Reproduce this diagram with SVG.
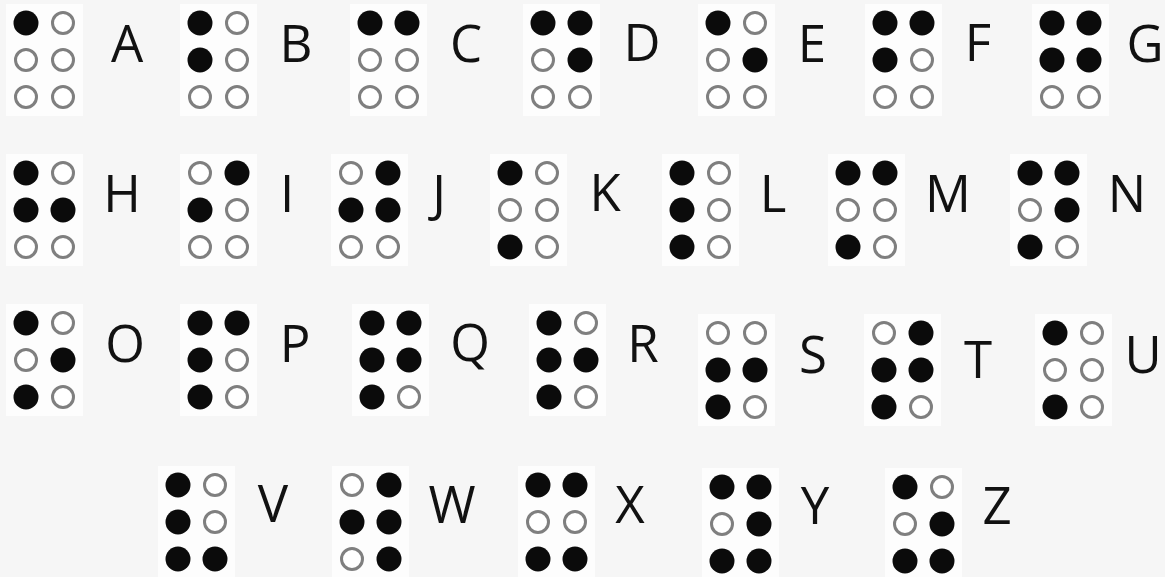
<svg xmlns="http://www.w3.org/2000/svg" xmlns:xlink="http://www.w3.org/1999/xlink" width="1165" height="577" viewBox="0 0 1165 577">
<style>
.bg{fill:#f6f6f6}
.pad{fill:#fdfdfd}
.on{fill:#0b0b0b}
.off{fill:#ffffff;stroke:#7f7f7f;stroke-width:3}
.lbl{font-family:"Open Sans","Liberation Sans",sans-serif;font-size:51px;fill:#111;text-anchor:middle}
</style>
<defs>
<circle id="f" r="12.5" class="on"/>
<circle id="h" r="10.5" class="off"/>
<rect id="p" x="-20" y="-19" width="77" height="112" class="pad"/>
</defs>
<rect class="bg" x="0" y="0" width="1165" height="577"/>
<g id="connectors"/>
<g id="cell-A" transform="translate(26,23)"><use href="#p"/><use href="#f" x="0" y="0"/><use href="#h" x="0" y="37"/><use href="#h" x="0" y="74"/><use href="#h" x="37" y="0"/><use href="#h" x="37" y="37"/><use href="#h" x="37" y="74"/></g>
<g id="cell-B" transform="translate(200,23)"><use href="#p"/><use href="#f" x="0" y="0"/><use href="#f" x="0" y="37"/><use href="#h" x="0" y="74"/><use href="#h" x="37" y="0"/><use href="#h" x="37" y="37"/><use href="#h" x="37" y="74"/></g>
<g id="cell-C" transform="translate(370,23)"><use href="#p"/><use href="#f" x="0" y="0"/><use href="#h" x="0" y="37"/><use href="#h" x="0" y="74"/><use href="#f" x="37" y="0"/><use href="#h" x="37" y="37"/><use href="#h" x="37" y="74"/></g>
<g id="cell-D" transform="translate(543,23)"><use href="#p"/><use href="#f" x="0" y="0"/><use href="#h" x="0" y="37"/><use href="#h" x="0" y="74"/><use href="#f" x="37" y="0"/><use href="#f" x="37" y="37"/><use href="#h" x="37" y="74"/></g>
<g id="cell-E" transform="translate(718,23)"><use href="#p"/><use href="#f" x="0" y="0"/><use href="#h" x="0" y="37"/><use href="#h" x="0" y="74"/><use href="#h" x="37" y="0"/><use href="#f" x="37" y="37"/><use href="#h" x="37" y="74"/></g>
<g id="cell-F" transform="translate(885,23)"><use href="#p"/><use href="#f" x="0" y="0"/><use href="#f" x="0" y="37"/><use href="#h" x="0" y="74"/><use href="#f" x="37" y="0"/><use href="#h" x="37" y="37"/><use href="#h" x="37" y="74"/></g>
<g id="cell-G" transform="translate(1052,23)"><use href="#p"/><use href="#f" x="0" y="0"/><use href="#f" x="0" y="37"/><use href="#h" x="0" y="74"/><use href="#f" x="37" y="0"/><use href="#f" x="37" y="37"/><use href="#h" x="37" y="74"/></g>
<g id="cell-H" transform="translate(26,173)"><use href="#p"/><use href="#f" x="0" y="0"/><use href="#f" x="0" y="37"/><use href="#h" x="0" y="74"/><use href="#h" x="37" y="0"/><use href="#f" x="37" y="37"/><use href="#h" x="37" y="74"/></g>
<g id="cell-I" transform="translate(200,173)"><use href="#p"/><use href="#h" x="0" y="0"/><use href="#f" x="0" y="37"/><use href="#h" x="0" y="74"/><use href="#f" x="37" y="0"/><use href="#h" x="37" y="37"/><use href="#h" x="37" y="74"/></g>
<g id="cell-J" transform="translate(351,173)"><use href="#p"/><use href="#h" x="0" y="0"/><use href="#f" x="0" y="37"/><use href="#h" x="0" y="74"/><use href="#f" x="37" y="0"/><use href="#f" x="37" y="37"/><use href="#h" x="37" y="74"/></g>
<g id="cell-K" transform="translate(510,173)"><use href="#p"/><use href="#f" x="0" y="0"/><use href="#h" x="0" y="37"/><use href="#f" x="0" y="74"/><use href="#h" x="37" y="0"/><use href="#h" x="37" y="37"/><use href="#h" x="37" y="74"/></g>
<g id="cell-L" transform="translate(682,173)"><use href="#p"/><use href="#f" x="0" y="0"/><use href="#f" x="0" y="37"/><use href="#f" x="0" y="74"/><use href="#h" x="37" y="0"/><use href="#h" x="37" y="37"/><use href="#h" x="37" y="74"/></g>
<g id="cell-M" transform="translate(848,173)"><use href="#p"/><use href="#f" x="0" y="0"/><use href="#h" x="0" y="37"/><use href="#f" x="0" y="74"/><use href="#f" x="37" y="0"/><use href="#h" x="37" y="37"/><use href="#h" x="37" y="74"/></g>
<g id="cell-N" transform="translate(1030,173)"><use href="#p"/><use href="#f" x="0" y="0"/><use href="#h" x="0" y="37"/><use href="#f" x="0" y="74"/><use href="#f" x="37" y="0"/><use href="#f" x="37" y="37"/><use href="#h" x="37" y="74"/></g>
<g id="cell-O" transform="translate(26,323)"><use href="#p"/><use href="#f" x="0" y="0"/><use href="#h" x="0" y="37"/><use href="#f" x="0" y="74"/><use href="#h" x="37" y="0"/><use href="#f" x="37" y="37"/><use href="#h" x="37" y="74"/></g>
<g id="cell-P" transform="translate(200,323)"><use href="#p"/><use href="#f" x="0" y="0"/><use href="#f" x="0" y="37"/><use href="#f" x="0" y="74"/><use href="#f" x="37" y="0"/><use href="#h" x="37" y="37"/><use href="#h" x="37" y="74"/></g>
<g id="cell-Q" transform="translate(372,323)"><use href="#p"/><use href="#f" x="0" y="0"/><use href="#f" x="0" y="37"/><use href="#f" x="0" y="74"/><use href="#f" x="37" y="0"/><use href="#f" x="37" y="37"/><use href="#h" x="37" y="74"/></g>
<g id="cell-R" transform="translate(549,323)"><use href="#p"/><use href="#f" x="0" y="0"/><use href="#f" x="0" y="37"/><use href="#f" x="0" y="74"/><use href="#h" x="37" y="0"/><use href="#f" x="37" y="37"/><use href="#h" x="37" y="74"/></g>
<g id="cell-S" transform="translate(718,333)"><use href="#p"/><use href="#h" x="0" y="0"/><use href="#f" x="0" y="37"/><use href="#f" x="0" y="74"/><use href="#h" x="37" y="0"/><use href="#f" x="37" y="37"/><use href="#h" x="37" y="74"/></g>
<g id="cell-T" transform="translate(884,333)"><use href="#p"/><use href="#h" x="0" y="0"/><use href="#f" x="0" y="37"/><use href="#f" x="0" y="74"/><use href="#f" x="37" y="0"/><use href="#f" x="37" y="37"/><use href="#h" x="37" y="74"/></g>
<g id="cell-U" transform="translate(1055,333)"><use href="#p"/><use href="#f" x="0" y="0"/><use href="#h" x="0" y="37"/><use href="#f" x="0" y="74"/><use href="#h" x="37" y="0"/><use href="#h" x="37" y="37"/><use href="#h" x="37" y="74"/></g>
<g id="cell-V" transform="translate(178,485)"><use href="#p"/><use href="#f" x="0" y="0"/><use href="#f" x="0" y="37"/><use href="#f" x="0" y="74"/><use href="#h" x="37" y="0"/><use href="#h" x="37" y="37"/><use href="#f" x="37" y="74"/></g>
<g id="cell-W" transform="translate(352,485)"><use href="#p"/><use href="#h" x="0" y="0"/><use href="#f" x="0" y="37"/><use href="#h" x="0" y="74"/><use href="#f" x="37" y="0"/><use href="#f" x="37" y="37"/><use href="#f" x="37" y="74"/></g>
<g id="cell-X" transform="translate(538,485)"><use href="#p"/><use href="#f" x="0" y="0"/><use href="#h" x="0" y="37"/><use href="#f" x="0" y="74"/><use href="#f" x="37" y="0"/><use href="#h" x="37" y="37"/><use href="#f" x="37" y="74"/></g>
<g id="cell-Y" transform="translate(722,487)"><use href="#p"/><use href="#f" x="0" y="0"/><use href="#h" x="0" y="37"/><use href="#f" x="0" y="74"/><use href="#f" x="37" y="0"/><use href="#f" x="37" y="37"/><use href="#f" x="37" y="74"/></g>
<g id="cell-Z" transform="translate(905,487)"><use href="#p"/><use href="#f" x="0" y="0"/><use href="#h" x="0" y="37"/><use href="#f" x="0" y="74"/><use href="#h" x="37" y="0"/><use href="#f" x="37" y="37"/><use href="#f" x="37" y="74"/></g>
<g id="labels">
<text class="lbl" x="127" y="62">A</text>
<text class="lbl" x="296" y="62">B</text>
<text class="lbl" x="466" y="62">C</text>
<text class="lbl" x="642" y="61">D</text>
<text class="lbl" x="812" y="62">E</text>
<text class="lbl" x="978" y="61">F</text>
<text class="lbl" x="1145" y="62">G</text>
<text class="lbl" x="122" y="212">H</text>
<text class="lbl" x="287" y="212">I</text>
<text class="lbl" x="439" y="212">J</text>
<text class="lbl" x="605" y="211">K</text>
<text class="lbl" x="773" y="212">L</text>
<text class="lbl" x="948" y="212">M</text>
<text class="lbl" x="1127" y="212">N</text>
<text class="lbl" x="125" y="362">O</text>
<text class="lbl" x="295" y="362">P</text>
<text class="lbl" x="470" y="361">Q</text>
<text class="lbl" x="643" y="362">R</text>
<text class="lbl" x="813" y="373">S</text>
<text class="lbl" x="978" y="378">T</text>
<text class="lbl" x="1143" y="373">U</text>
<text class="lbl" x="273" y="522">V</text>
<text class="lbl" x="452" y="523">W</text>
<text class="lbl" x="630" y="523">X</text>
<text class="lbl" x="815" y="524">Y</text>
<text class="lbl" x="997" y="524">Z</text>
</g>
</svg>
